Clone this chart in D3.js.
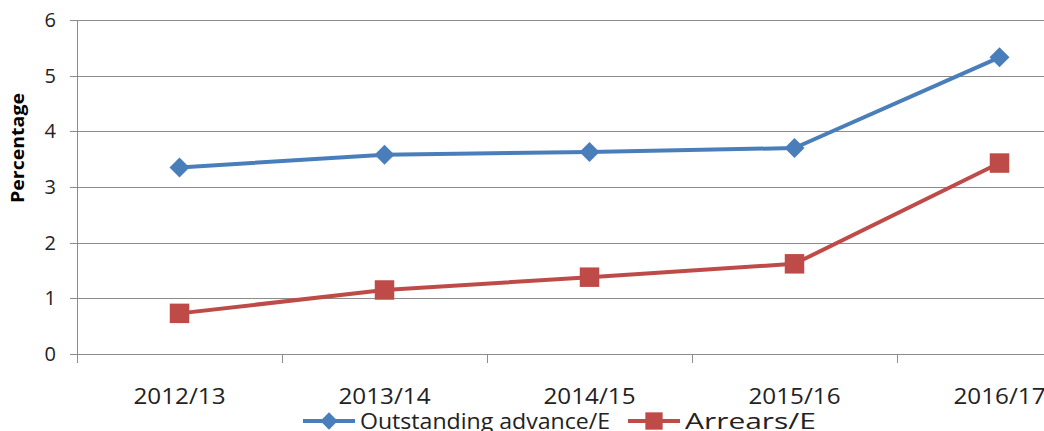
<!DOCTYPE html>
<html>
<head>
<meta charset="utf-8">
<script src="https://cdn.jsdelivr.net/npm/d3@7"></script>
<style>
  body { margin: 0; background: #fff; overflow: hidden; }
  text { font-family: "Open Sans", "Liberation Sans", sans-serif; fill: #222; }
</style>
</head>
<body>
<div class="chart"></div>
<script>
var categories = ["2012/13", "2013/14", "2014/15", "2015/16", "2016/17"];
var outstanding = [3.35, 3.58, 3.63, 3.70, 5.33];
var arrears = [0.73, 1.15, 1.38, 1.62, 3.43];
var yTicks = [0, 1, 2, 3, 4, 5, 6];

var width = 1044, height = 431;
var plotLeft = 77, plotTop = 20, plotBottom = 354;

var svg = d3.select(".chart").append("svg")
    .attr("width", width)
    .attr("height", height)
    .style("display", "block");

// band width 205px per category, the right side gets cropped
var x = d3.scaleBand()
    .domain(categories)
    .range([plotLeft, plotLeft + 205 * categories.length]);

var y = d3.scaleLinear()
    .domain([0, 6])
    .range([plotBottom, plotTop]);

// gridlines
svg.append("g").selectAll("line")
    .data(yTicks)
    .enter().append("line")
    .attr("x1", plotLeft - 7)
    .attr("x2", width)
    .attr("y1", function(d) { return Math.round(y(d)) + 0.5; })
    .attr("y2", function(d) { return Math.round(y(d)) + 0.5; })
    .attr("stroke", "#8c8c8c")
    .attr("stroke-width", 1);

// y axis line
svg.append("line")
    .attr("x1", plotLeft + 0.5).attr("x2", plotLeft + 0.5)
    .attr("y1", plotTop).attr("y2", plotBottom + 9)
    .attr("stroke", "#8c8c8c");

// x tick marks between categories
svg.append("g").selectAll("line")
    .data(categories.slice(1))
    .enter().append("line")
    .attr("x1", function(d) { return x(d) + 0.5; })
    .attr("x2", function(d) { return x(d) + 0.5; })
    .attr("y1", plotBottom)
    .attr("y2", plotBottom + 9)
    .attr("stroke", "#8c8c8c");

// y tick labels
svg.append("g").selectAll("text")
    .data(yTicks)
    .enter().append("text")
    .attr("x", 56)
    .attr("y", function(d) { return y(d); })
    .attr("dy", "0.35em")
    .attr("text-anchor", "end")
    .style("font-size", "20px")
    .text(function(d) { return d; });

// x labels (reference font is stretched wide)
svg.append("g").selectAll("text")
    .data(categories)
    .enter().append("text")
    .attr("x", function(d) { return x(d) + x.bandwidth() / 2; })
    .attr("y", 404)
    .attr("text-anchor", "middle")
    .attr("textLength", 92)
    .attr("lengthAdjust", "spacingAndGlyphs")
    .style("font-size", "22px")
    .text(function(d) { return d; });

// y axis title
svg.append("text")
    .attr("transform", "translate(24,148) rotate(-90)")
    .attr("text-anchor", "middle")
    .attr("textLength", 110)
    .attr("lengthAdjust", "spacingAndGlyphs")
    .style("font-size", "17px")
    .style("font-weight", "bold")
    .style("fill", "#000")
    .text("Percentage");

var line = d3.line()
    .x(function(d, i) { return x(categories[i]) + x.bandwidth() / 2; })
    .y(function(d) { return y(d); });

var series = [
  { name: "Outstanding advance/E", values: outstanding, color: "#4A7EBB", diamond: true },
  { name: "Arrears/E", values: arrears, color: "#BE4B48", diamond: false }
];

// diamond = square turned 45 degrees
function marker(g, s, size) {
  g.attr("d", d3.symbol().type(d3.symbolSquare).size(size))
    .attr("fill", s.color);
}

series.forEach(function(s) {
  svg.append("path")
    .datum(s.values)
    .attr("d", line)
    .attr("fill", "none")
    .attr("stroke", s.color)
    .attr("stroke-width", 4)
    .attr("stroke-linejoin", "round");

  svg.append("g").selectAll("path")
    .data(s.values)
    .enter().append("path")
    .attr("transform", function(d, i) {
      return "translate(" + (x(categories[i]) + x.bandwidth() / 2) + "," + y(d) + ")" +
        (s.diamond ? " rotate(45)" : "");
    })
    .call(marker, s, s.diamond ? 200 : 380);
});

// legend
var legendX = [303, 628];
var legendLen = [250, 131];
var lg = svg.append("g").selectAll("g")
    .data(series)
    .enter().append("g")
    .attr("transform", function(d, i) { return "translate(" + legendX[i] + ",421)"; });

lg.append("line")
    .attr("x1", 0).attr("x2", 52)
    .attr("stroke", function(d) { return d.color; })
    .attr("stroke-width", 4);

lg.append("path")
    .attr("transform", function(d) { return "translate(26,0)" + (d.diamond ? " rotate(45)" : ""); })
    .attr("d", function(d) { return d3.symbol().type(d3.symbolSquare).size(d.diamond ? 150 : 300)(); })
    .attr("fill", function(d) { return d.color; });

lg.append("text")
    .attr("x", 57)
    .attr("y", 0)
    .attr("dy", "0.35em")
    .attr("textLength", function(d, i) { return legendLen[i]; })
    .attr("lengthAdjust", "spacingAndGlyphs")
    .style("font-size", "22px")
    .text(function(d) { return d.name; });
</script>
</body>
</html>
